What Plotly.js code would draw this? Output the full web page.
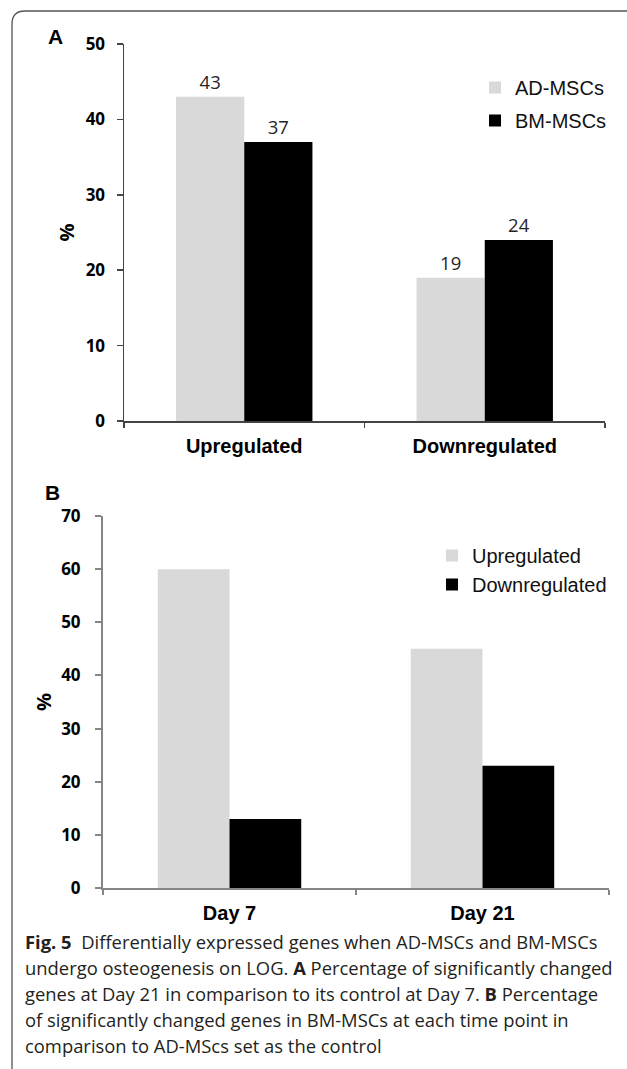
<!DOCTYPE html>
<html>
<head>
<meta charset="utf-8">
<script src="https://cdn.plot.ly/plotly-3.0.1.min.js"></script>
<style>
html,body{margin:0;padding:0;background:#fff;}
#chart{width:627px;height:1069px;}
</style>
</head>
<body>
<div id="chart"></div>
<script>
// ---- data ----
const categoriesA = ['Upregulated', 'Downregulated'];
const adMSCs = [43, 19];
const bmMSCs = [37, 24];

const categoriesB = ['Day 7', 'Day 21'];
const upregulated = [60, 45];
const downregulated = [13, 23];

const yTicksA = [0, 10, 20, 30, 40, 50];
const yTicksB = [0, 10, 20, 30, 40, 50, 60, 70];

const captionLines = [
  '<b>Fig. 5</b>  Differentially expressed genes when AD-MSCs and BM-MSCs',
  'undergo osteogenesis on LOG. <b>A</b> Percentage of significantly changed',
  'genes at Day 21 in comparison to its control at Day 7. <b>B</b> Percentage',
  'of significantly changed genes in BM-MSCs at each time point in',
  'comparison to AD-MScs set as the control'
];

// ---- layout helpers (pixel -> paper) ----
const W = 627, H = 1069;
const px = v => v / W;
const py = v => 1 - v / H;

const GRAY = '#d9d9d9', BLACK = '#000000';
const tickFont = {family: 'Open Sans, sans-serif', size: 17, color: '#000', weight: 'bold'};
const catFont = {family: 'Liberation Sans, Arial, sans-serif', size: 20, color: '#000', weight: 'bold'};
const legFont = {family: 'Liberation Sans, Arial, sans-serif', size: 20, color: '#111'};
const valFont = {family: 'Open Sans, sans-serif', size: 18.5, color: '#262626'};
const pctFont = {family: 'Open Sans, sans-serif', size: 20, color: '#000'};

const traces = [
  {type: 'bar', name: 'AD-MSCs', x: categoriesA, y: adMSCs, xaxis: 'x', yaxis: 'y',
   marker: {color: GRAY}, legend: 'legend', legendgroup: 'a1',
   text: adMSCs.map(String), textposition: 'outside', cliponaxis: false, textfont: valFont},
  {type: 'bar', name: 'BM-MSCs', x: categoriesA, y: bmMSCs, xaxis: 'x', yaxis: 'y',
   marker: {color: BLACK}, legend: 'legend', legendgroup: 'a2',
   text: bmMSCs.map(String), textposition: 'outside', cliponaxis: false, textfont: valFont},
  {type: 'bar', name: 'Upregulated', x: categoriesB, y: upregulated, xaxis: 'x2', yaxis: 'y2',
   marker: {color: GRAY}, legend: 'legend2', legendgroup: 'b1'},
  {type: 'bar', name: 'Downregulated', x: categoriesB, y: downregulated, xaxis: 'x2', yaxis: 'y2',
   marker: {color: BLACK}, legend: 'legend2', legendgroup: 'b2'}
];

const annotations = [
  {text: '<b>A</b>', xref: 'paper', yref: 'paper', x: px(55), y: py(37), xanchor: 'center', yanchor: 'middle',
   showarrow: false, font: {family: 'Liberation Sans, Arial, sans-serif', size: 21, color: '#000'}},
  {text: '<b>B</b>', xref: 'paper', yref: 'paper', x: px(52), y: py(492), xanchor: 'center', yanchor: 'middle',
   showarrow: false, font: {family: 'Liberation Sans, Arial, sans-serif', size: 21, color: '#000'}}
];
captionLines.forEach((t, i) => {
  annotations.push({text: t, xref: 'paper', yref: 'paper', x: px(23), y: py(941 + i * 26),
    xanchor: 'left', yanchor: 'middle', showarrow: false, align: 'left',
    font: {family: 'Open Sans, sans-serif', size: 18.4, color: '#231f20'}});
});

const layout = {
  width: W, height: H,
  margin: {l: 0, r: 0, t: 0, b: 0},
  paper_bgcolor: '#fff', plot_bgcolor: 'rgba(0,0,0,0)',
  barmode: 'group', bargap: 0.433, bargroupgap: 0,
  showlegend: true,
  xaxis: {domain: [px(124), px(605)], anchor: 'y', type: 'category',
    showline: true, linecolor: '#444', linewidth: 1.5,
    ticks: 'outside', tickson: 'boundaries', ticklen: 5, tickcolor: '#444', tickwidth: 1.5,
    tickfont: catFont, ticklabelstandoff: 6, showgrid: false, zeroline: false, fixedrange: true},
  yaxis: {domain: [py(421), py(44)], anchor: 'x', range: [0, 50],
    tickvals: yTicksA, showline: true, linecolor: '#444', linewidth: 1.5,
    ticks: 'outside', ticklen: 6, tickcolor: '#444', tickwidth: 1.5,
    tickfont: tickFont, ticklabelstandoff: 8, showgrid: false, zeroline: false,
    title: {text: '<b>%</b>', font: pctFont, standoff: 5},
    fixedrange: true},
  xaxis2: {domain: [px(103), px(609)], anchor: 'y2', type: 'category',
    showline: true, linecolor: '#858585', linewidth: 2,
    ticks: 'outside', tickson: 'boundaries', ticklen: 5, tickcolor: '#858585', tickwidth: 2,
    tickfont: catFont, ticklabelstandoff: 6, showgrid: false, zeroline: false, fixedrange: true},
  yaxis2: {domain: [py(888), py(516)], anchor: 'x2', range: [0, 70],
    tickvals: yTicksB, showline: true, linecolor: '#858585', linewidth: 2,
    ticks: 'outside', ticklen: 6, tickcolor: '#858585', tickwidth: 2,
    tickfont: tickFont, ticklabelstandoff: 11, showgrid: false, zeroline: false,
    title: {text: '<b>%</b>', font: pctFont, standoff: 4},
    fixedrange: true},
  legend: {x: px(475), y: py(68), xanchor: 'left', yanchor: 'top', bgcolor: 'rgba(0,0,0,0)',
    font: legFont, traceorder: 'grouped', tracegroupgap: 4, borderwidth: 0},
  legend2: {x: px(432), y: py(536), xanchor: 'left', yanchor: 'top', bgcolor: 'rgba(0,0,0,0)',
    font: legFont, traceorder: 'grouped', tracegroupgap: 0, borderwidth: 0},
  annotations: annotations,
  shapes: [
    {type: 'path', xref: 'paper', yref: 'paper',
     path: `M ${px(12)} ${py(1069)} L ${px(12)} ${py(24)} Q ${px(12)} ${py(11)} ${px(25)} ${py(11)} L ${px(627)} ${py(11)}`,
     line: {color: '#555', width: 1.3}}
  ]
};

Plotly.newPlot('chart', traces, layout, {displayModeBar: false, staticPlot: true});
</script>
</body>
</html>
